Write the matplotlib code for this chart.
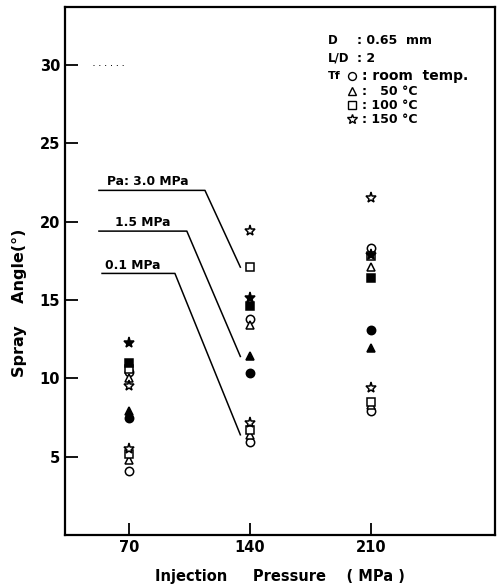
import matplotlib
matplotlib.use("Agg")
import matplotlib.pyplot as plt

# injection pressure (MPa) on the x axis
pressures = [70, 140, 210]

# spray angle (deg); rows = fuel temperature, columns = injection pressure
temps = ["room temp.", "50 °C", "100 °C", "150 °C"]
angle_pa01 = [
    [4.1, 5.95, 7.9],
    [4.8, 6.4, 8.3],
    [5.2, 6.7, 8.5],
    [5.5, 7.15, 9.4],
]
angle_pa15 = [
    [7.5, 10.35, 13.1],
    [7.9, 11.4, 11.95],
    [11.0, 14.6, 16.4],
    [12.25, 15.1, 17.9],
]
angle_pa30 = [
    [10.4, 13.8, 18.3],
    [10.0, 13.4, 17.1],
    [10.6, 17.1, 17.8],
    [9.5, 19.4, 21.5],
]

markers = ["o", "^", "s", "*"]
sizes = [6.0, 6.0, 5.5, 8.0]

plt.rcParams["font.family"] = ["DejaVu Sans"]
plt.rcParams["font.weight"] = "bold"

fig = plt.figure(figsize=(4.97, 5.88), dpi=100)
ax = fig.add_axes([0.131, 0.090, 0.865, 0.898])

for i in range(4):
    ax.plot(pressures, angle_pa01[i], linestyle="none", marker=markers[i],
            ms=sizes[i], mfc="white", mec="black", mew=1.1)
    ax.plot(pressures, angle_pa30[i], linestyle="none", marker=markers[i],
            ms=sizes[i], mfc="white", mec="black", mew=1.1)
    ax.plot(pressures, angle_pa15[i], linestyle="none", marker=markers[i],
            ms=sizes[i], mfc="black", mec="black", mew=1.1)

# callouts for ambient pressure, pointing at the 140 MPa points
callouts = [
    ("Pa: 3.0 MPa", 52.6, 114.0, 22.0, angle_pa30[2][1], 57.0),
    ("1.5 MPa", 52.6, 103.5, 19.4, angle_pa15[1][1], 62.0),
    ("0.1 MPa", 54.4, 96.6, 16.7, angle_pa01[1][1], 56.0),
]
for label, x0, x1, ylev, target, xt in callouts:
    ax.plot([x0, x1, 140 - 5.5], [ylev, ylev, target], color="black", lw=1.1)
    ax.text(xt, ylev + 0.12, label, fontsize=8.8, fontweight="bold",
            ha="left", va="bottom")

# faint dotted extension of the 30 deg tick
ax.plot([49, 67], [30, 30], color="black", lw=0.7, ls=(0, (1, 5)))

ax.set_xlim(33, 282)
ax.set_ylim(0, 33.7)
ax.set_xticks(pressures)
ax.set_yticks([5, 10, 15, 20, 25, 30])
ax.tick_params(direction="in", length=9, width=1.3, labelsize=10.5)
for lbl in ax.get_xticklabels() + ax.get_yticklabels():
    lbl.set_fontweight("bold")
for sp in ax.spines.values():
    sp.set_linewidth(1.6)

ax.set_xlabel("Injection     Pressure    ( MPa )", fontsize=10.5, fontweight="bold",
              labelpad=10)
ax.set_ylabel("Spray    Angle(°)", fontsize=11.5, fontweight="bold")
ax.yaxis.set_label_coords(-0.088, 0.44)

# nozzle conditions and temperature key
x_name, x_sym, x_val = 0.612, 0.668, 0.680
ax.text(x_name, 0.9375, "D", transform=ax.transAxes, fontsize=8.5, va="center")
ax.text(x_val, 0.9375, ": 0.65  mm", transform=ax.transAxes, fontsize=9, va="center")
ax.text(x_name, 0.9034, "L/D", transform=ax.transAxes, fontsize=8.5, va="center")
ax.text(x_val, 0.9034, ": 2", transform=ax.transAxes, fontsize=9, va="center")
ax.text(x_name, 0.8693, "Tf", transform=ax.transAxes, fontsize=8, va="center")
key_y = [0.8693, 0.8409, 0.8144, 0.7879]
key_txt = [": room  temp.", ":   50 °C", ": 100 °C", ": 150 °C"]
key_fs = [10, 9, 9, 9]
for i in range(4):
    ax.plot([x_sym], [key_y[i]], transform=ax.transAxes, marker=markers[i],
            ms=sizes[i] * 0.95, mfc="white", mec="black", mew=1.0, clip_on=False)
    ax.text(x_sym + 0.022, key_y[i], key_txt[i], transform=ax.transAxes,
            fontsize=key_fs[i], va="center")

fig.savefig("out.png", dpi=100)
